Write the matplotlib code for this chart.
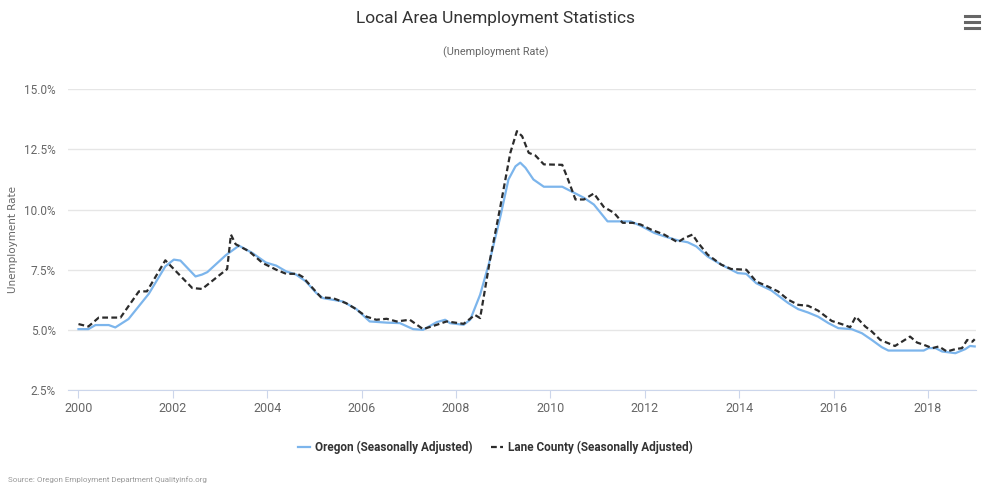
import matplotlib
matplotlib.use("Agg")
import matplotlib.pyplot as plt
from matplotlib.lines import Line2D
from matplotlib.ticker import FuncFormatter, MultipleLocator

plt.rcParams['font.family'] = ['Roboto', 'DejaVu Sans']

# Oregon (Seasonally Adjusted)
oregon_years = [2000.00, 2000.21, 2000.36, 2000.64, 2000.78, 2001.06, 2001.49, 2001.84,
                2002.02, 2002.16, 2002.48, 2002.62, 2002.73, 2003.12, 2003.40, 2003.68,
                2003.97, 2004.19, 2004.40, 2004.61, 2004.82, 2005.04, 2005.18, 2005.60,
                2005.89, 2006.17, 2006.53, 2006.81, 2007.09, 2007.30, 2007.59, 2007.77,
                2007.87, 2008.16, 2008.30, 2008.51, 2008.72, 2008.94, 2009.11, 2009.26,
                2009.36, 2009.47, 2009.64, 2009.86, 2010.25, 2010.50, 2010.71, 2010.92,
                2011.21, 2011.70, 2011.91, 2012.20, 2012.41, 2012.70, 2012.91, 2013.09,
                2013.33, 2013.62, 2013.97, 2014.15, 2014.36, 2014.68, 2015.04, 2015.25,
                2015.46, 2015.67, 2015.89, 2016.10, 2016.38, 2016.60, 2016.81, 2017.02,
                2017.16, 2017.91, 2018.01, 2018.16, 2018.30, 2018.58, 2018.79, 2018.89,
                2018.99]
oregon_rate = [5.03, 5.03, 5.20, 5.20, 5.10, 5.45, 6.50, 7.64,
               7.92, 7.88, 7.22, 7.30, 7.40, 8.10, 8.50, 8.20,
               7.80, 7.67, 7.43, 7.30, 7.01, 6.53, 6.32, 6.18,
               5.86, 5.35, 5.30, 5.28, 5.03, 5.00, 5.32, 5.42,
               5.28, 5.21, 5.42, 6.46, 7.92, 9.72, 11.25, 11.80,
               11.95, 11.74, 11.25, 10.95, 10.95, 10.70, 10.49, 10.21,
               9.51, 9.51, 9.33, 9.03, 8.89, 8.72, 8.64, 8.47,
               8.05, 7.71, 7.36, 7.33, 6.94, 6.64, 6.11, 5.86,
               5.72, 5.55, 5.28, 5.07, 5.03, 4.86, 4.58, 4.28,
               4.14, 4.14, 4.24, 4.24, 4.10, 4.03, 4.20, 4.33,
               4.31]

# Lane County (Seasonally Adjusted)
lane_years = [2000.00, 2000.21, 2000.43, 2000.89, 2001.28, 2001.45, 2001.84, 2002.41,
              2002.62, 2003.15, 2003.23, 2003.33, 2003.62, 2003.90, 2004.19, 2004.40,
              2004.64, 2004.75, 2004.96, 2005.14, 2005.39, 2005.67, 2005.85, 2006.10,
              2006.31, 2006.53, 2006.74, 2007.02, 2007.30, 2007.59, 2007.80, 2008.16,
              2008.40, 2008.51, 2008.72, 2008.94, 2009.15, 2009.29, 2009.40, 2009.54,
              2009.68, 2009.86, 2010.25, 2010.36, 2010.53, 2010.71, 2010.92, 2011.13,
              2011.35, 2011.53, 2011.74, 2011.91, 2012.13, 2012.41, 2012.70, 2012.84,
              2013.01, 2013.12, 2013.33, 2013.62, 2013.83, 2014.15, 2014.36, 2014.61,
              2014.82, 2015.04, 2015.25, 2015.46, 2015.67, 2015.96, 2016.17, 2016.35,
              2016.47, 2016.67, 2016.81, 2016.99, 2017.30, 2017.45, 2017.62, 2017.77,
              2017.91, 2018.09, 2018.23, 2018.40, 2018.58, 2018.72, 2018.83, 2018.94,
              2018.99]
lane_rate = [5.24, 5.14, 5.51, 5.51, 6.60, 6.60, 7.89, 6.74,
             6.70, 7.53, 8.96, 8.56, 8.26, 7.78, 7.50, 7.33,
             7.33, 7.20, 6.74, 6.35, 6.32, 6.11, 5.90, 5.55,
             5.42, 5.46, 5.35, 5.42, 5.03, 5.21, 5.35, 5.25,
             5.62, 5.49, 7.92, 10.14, 12.36, 13.26, 13.05, 12.36,
             12.25, 11.88, 11.86, 11.32, 10.42, 10.42, 10.67, 10.11,
             9.86, 9.45, 9.45, 9.38, 9.17, 8.96, 8.64, 8.82,
             8.96, 8.64, 8.13, 7.71, 7.53, 7.50, 7.01, 6.80,
             6.60, 6.25, 6.04, 6.00, 5.80, 5.37, 5.24, 5.11,
             5.55, 5.14, 4.93, 4.58, 4.33, 4.51, 4.72, 4.47,
             4.38, 4.24, 4.31, 4.10, 4.20, 4.24, 4.58, 4.51,
             4.61]

year_ticks = [2000, 2002, 2004, 2006, 2008, 2010, 2012, 2014, 2016, 2018]

fig = plt.figure(figsize=(9.87, 4.87), dpi=100)
ax = fig.add_axes([0.069, 0.1992, 0.92, 0.6174])

ax.plot(oregon_years, oregon_rate, color='#7cb5ec', lw=1.6,
        label='Oregon (Seasonally Adjusted)', zorder=3)
ax.plot(lane_years, lane_rate, color='#2b2b2b', lw=1.6, dashes=(2.6, 1.5),
        label='Lane County (Seasonally Adjusted)', zorder=4)

ax.set_xlim(1999.78, 2019.02)
ax.set_ylim(2.5, 15.0)
ax.yaxis.set_major_locator(MultipleLocator(2.5))
ax.yaxis.set_major_formatter(FuncFormatter(lambda v, p: f'{v:.1f}%'))
ax.set_xticks(year_ticks)
ax.set_xticklabels([str(y) for y in year_ticks])

ax.grid(axis='y', color='#e6e6e6', lw=1)
ax.set_axisbelow(True)
for s in ['top', 'right', 'left']:
    ax.spines[s].set_visible(False)
ax.spines['bottom'].set_color('#ccd6eb')
ax.tick_params(axis='y', length=0, pad=9, labelsize=8.5, labelcolor='#666666')
ax.tick_params(axis='x', length=6, color='#ccd6eb', pad=3, labelsize=9,
               labelcolor='#666666')

ax.set_ylabel('Unemployment Rate', family='DejaVu Sans', fontsize=7.5,
              color='#666666')
ax.yaxis.set_label_coords(-0.055, 0.5)

fig.text(0.502, 0.963, 'Local Area Unemployment Statistics', ha='center',
         va='center', fontsize=12.5, color='#333333')
fig.text(0.502, 0.893, '(Unemployment Rate)', ha='center', va='center',
         fontsize=7.8, color='#666666')
fig.text(0.008, 0.016, 'Source: Oregon Employment Department Qualityinfo.org',
         ha='left', va='center', fontsize=5.8, color='#999999')

leg = fig.legend(loc='center', bbox_to_anchor=(0.502, 0.082), ncol=2, frameon=False,
                 handlelength=1.0, handletextpad=0.5, columnspacing=1.5,
                 prop={'size': 8.5, 'weight': 'bold'})
for t in leg.get_texts():
    t.set_color('#333333')

# menu icon
for yy in [0.968, 0.955, 0.942]:
    fig.add_artist(Line2D([0.978, 0.992], [yy, yy], color='#666666', lw=2.2))

fig.savefig('out.png', dpi=100)
